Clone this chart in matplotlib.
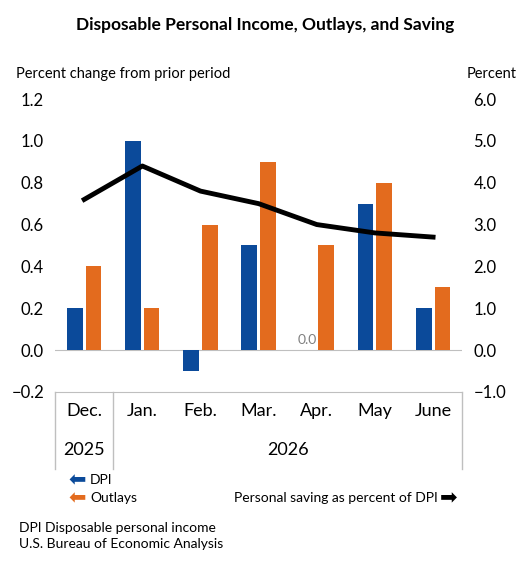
import matplotlib.pyplot as plt
import numpy as np

# data
months = ['Dec.', 'Jan.', 'Feb.', 'Mar.', 'Apr.', 'May', 'June']
dpi = [0.2, 1.0, -0.1, 0.5, 0.0, 0.7, 0.2]
outlays = [0.4, 0.2, 0.6, 0.9, 0.5, 0.8, 0.3]
saving = [3.6, 4.4, 3.8, 3.5, 3.0, 2.8, 2.7]

BLUE = '#0b4a9a'
ORANGE = '#e36b1e'

plt.rcParams['font.family'] = ['Lato', 'DejaVu Sans']

fig = plt.figure(figsize=(5.30, 5.63), dpi=100)
ax = fig.add_axes([0.104, 0.304, 0.768, 0.52])
x = np.arange(len(months))
w = 0.27
ax.bar(x - 0.16, dpi, w, color=BLUE, zorder=2)
ax.bar(x + 0.16, outlays, w, color=ORANGE, zorder=2)
ax.text(x[4] - 0.16, 0.02, '0.0', ha='center', va='bottom', color='#808080', fontsize=10)
ax.set_xlim(-0.5, 6.5)
ax.set_ylim(-0.2, 1.2)
ax.set_yticks(np.arange(-0.2, 1.21, 0.2))
ax.set_yticklabels(['\u22120.2'] + ['%.1f' % v for v in np.arange(0, 1.21, 0.2)], fontsize=12)
ax.set_xticks([])
ax.axhline(0, color='#bfbfbf', lw=0.8, zorder=1)
for s in ['top', 'right', 'left']:
    ax.spines[s].set_visible(False)
ax.spines['bottom'].set_color('#bfbfbf')
ax.tick_params(axis='y', length=0, pad=8)

ax2 = ax.twinx()
ax2.plot(x, saving, color='black', lw=3.5, zorder=3)
ax2.set_ylim(-1.0, 6.0)
ax2.set_yticks(np.arange(-1, 6.1, 1))
ax2.set_yticklabels(['\u22121.0'] + ['%.1f' % v for v in np.arange(0, 6.1, 1)], fontsize=12)
for s in ['top', 'right', 'left', 'bottom']:
    ax2.spines[s].set_visible(False)
ax2.tick_params(axis='y', length=0, pad=8)

# category labels below the axis
for i, m in enumerate(months):
    ax.text(i, -0.29, m, ha='center', va='center', fontsize=13, clip_on=False)
ax.text(0, -0.48, '2025', ha='center', va='center', fontsize=13, clip_on=False)
ax.text(3.5, -0.48, '2026', ha='center', va='center', fontsize=13, clip_on=False)
for xv in [-0.5, 0.5, 6.5]:
    ax.plot([xv, xv], [-0.2, -0.57], color='#bfbfbf', lw=1.0, clip_on=False)

fig.text(0.5, 0.955, 'Disposable Personal Income, Outlays, and Saving', ha='center',
         va='center', fontsize=12.5, fontweight='bold')
fig.text(0.03, 0.868, 'Percent change from prior period', fontsize=10.5, va='center')
fig.text(0.975, 0.868, 'Percent', fontsize=10.5, va='center', ha='right')

fig.text(0.13, 0.147, '\u2b05', color=BLUE, fontsize=15, va='center', family='DejaVu Sans')
fig.text(0.17, 0.147, 'DPI', fontsize=10, va='center')
fig.text(0.13, 0.115, '\u2b05', color=ORANGE, fontsize=15, va='center', family='DejaVu Sans')
fig.text(0.17, 0.115, 'Outlays', fontsize=10, va='center')
fig.text(0.825, 0.115, 'Personal saving as percent of DPI', fontsize=10, va='center', ha='right')
fig.text(0.83, 0.115, '\u27a1', fontsize=15, va='center', family='DejaVu Sans')

fig.text(0.035, 0.063, 'DPI Disposable personal income', fontsize=10, va='center')
fig.text(0.035, 0.033, 'U.S. Bureau of Economic Analysis', fontsize=10, va='center')

fig.savefig('out.png', dpi=100)
